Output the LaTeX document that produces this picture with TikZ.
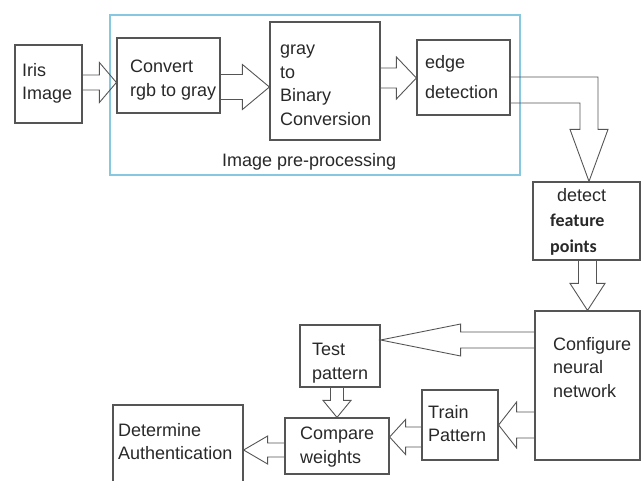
\documentclass[tikz,border=0pt]{standalone}
\usepackage{fontspec}
\setmainfont{Liberation Sans}
\newfontfamily\calibrifont{Carlito}
\usetikzlibrary{calc}

\definecolor{boxgray}{RGB}{85,85,85}
\definecolor{framecyan}{RGB}{135,200,225}
\definecolor{inkgray}{RGB}{40,40,40}

% hollow block arrows: tail, tip, shaft half width, head half width, head length
\newcommand{\fatright}[5]{\draw[fat] let \p1=(#1), \p2=(#2) in (\x1,\y1+#3) -- (\x2-#5,\y1+#3) -- (\x2-#5,\y1+#4) -- (\x2,\y1) -- (\x2-#5,\y1-#4) -- (\x2-#5,\y1-#3) -- (\x1,\y1-#3);}
\newcommand{\fatleft}[5]{\draw[fat] let \p1=(#1), \p2=(#2) in (\x1,\y1+#3) -- (\x2+#5,\y1+#3) -- (\x2+#5,\y1+#4) -- (\x2,\y1) -- (\x2+#5,\y1-#4) -- (\x2+#5,\y1-#3) -- (\x1,\y1-#3);}
\newcommand{\fatdown}[5]{\draw[fat] let \p1=(#1), \p2=(#2) in (\x2-#3,\y1) -- (\x2-#3,\y2+#5) -- (\x2-#4,\y2+#5) -- (\x2,\y2) -- (\x2+#4,\y2+#5) -- (\x2+#3,\y2+#5) -- (\x2+#3,\y1);}

\begin{document}
\begin{tikzpicture}[x=1pt, y=1pt,
    font=\fontsize{18}{23.5}\selectfont,
    box/.style={draw=boxgray, line width=1.2pt, inner sep=0pt},
    txt/.style={anchor=north west, inner sep=0pt, align=left, text=inkgray},
    fat/.style={draw=boxgray, line width=0.9pt, line join=miter}]

    \useasboundingbox (0,0) rectangle (644,480);
    \clip (0,0) rectangle (644,480);

    \node[draw=framecyan, line width=1.1pt, minimum width=410pt, minimum height=160pt] at (315,385) (pre) {};
    \node[txt] at (222,327) (pre-text) {Image pre-processing};

    \node[box, minimum width=67pt, minimum height=78pt] at (48.5,396) (iris) {};
    \node[box, minimum width=103pt, minimum height=75pt] at (168.5,404.5) (rgb) {};
    \node[box, minimum width=110pt, minimum height=118pt] at (325,399) (bin) {};
    \node[box, minimum width=93pt, minimum height=75pt] at (463.5,402.5) (edge) {};
    \node[box, minimum width=107pt, minimum height=78pt] at (586.5,259) (detect) {};
    \node[box, minimum width=105pt, minimum height=149pt] at (587.5,94.5) (conf) {};
    \node[box, minimum width=80pt, minimum height=62pt] at (340,124) (test) {};
    \node[box, minimum width=76pt, minimum height=70pt] at (460,55) (train) {};
    \node[box, minimum width=104pt, minimum height=56pt] at (337,34) (cmp) {};
    \node[box, minimum width=130pt, minimum height=87pt] at (178,31.5) (auth) {};

    \node[txt] at (22,417) (iris-text) {Iris\\Image};
    \node[txt] at (130,420) (rgb-text) {Convert\\rgb to gray};
    \node[txt] at (280,435) (bin-text) {gray\\to\\Binary\\Conversion};
    \node[txt] at (425,425) (edge-text) {edge\\[6.5pt]detection};
    \node[txt] at (550,292) (detect-text) {\hspace*{7pt}detect\\[2pt]{\calibrifont\bfseries feature}\\[2pt]{\calibrifont\bfseries points}};
    \node[txt] at (553,143) (conf-text) {Configure\\neural\\network};
    \node[txt] at (312,137) (test-text) {Test\\pattern};
    \node[txt] at (428,75) (train-text) {Train\\Pattern};
    \node[txt] at (300,53) (cmp-text) {Compare\\weights};
    \node[txt] at (118,57) (auth-text) {Determine\\Authentication};

    \fatright{$(iris.east)+(0,1.5)$}{rgb.west}{7.5pt}{20pt}{17pt}
    \fatright{$(rgb.east)+(0,-11.5)$}{bin.west}{12.5pt}{22.5pt}{27pt}
    \fatright{$(bin.east)+(0,3)$}{edge.west}{10pt}{21pt}{20pt}
    \draw[fat] let \p1=(edge.east), \p2=($(detect.north)+(2.5,0)$) in
        (\x1,\y1+0.5pt) -- (\x2+9pt,\y1+0.5pt) -- (\x2+9pt,\y2+52pt) -- (\x2+19pt,\y2+52pt) -- (\x2,\y2)
        -- (\x2-19pt,\y2+52pt) -- (\x2-9pt,\y2+52pt) -- (\x2-9pt,\y1-25.5pt) -- (\x1,\y1-25.5pt);
    \fatdown{detect.south}{conf.north}{9pt}{17.5pt}{27pt}
    \fatleft{$(conf.west)+(0,45.5)$}{test.east}{8pt}{16pt}{80pt}
    \fatleft{$(conf.west)+(0,-39.5)$}{train.east}{13pt}{23pt}{18pt}
    \fatleft{$(train.west)+(0,-12)$}{cmp.east}{10pt}{17.5pt}{16pt}
    \fatdown{test.south}{cmp.north}{6.5pt}{14pt}{17pt}
    \fatleft{$(cmp.west)+(0,-4)$}{auth.east}{7pt}{14pt}{24pt}

\end{tikzpicture}
\end{document}
